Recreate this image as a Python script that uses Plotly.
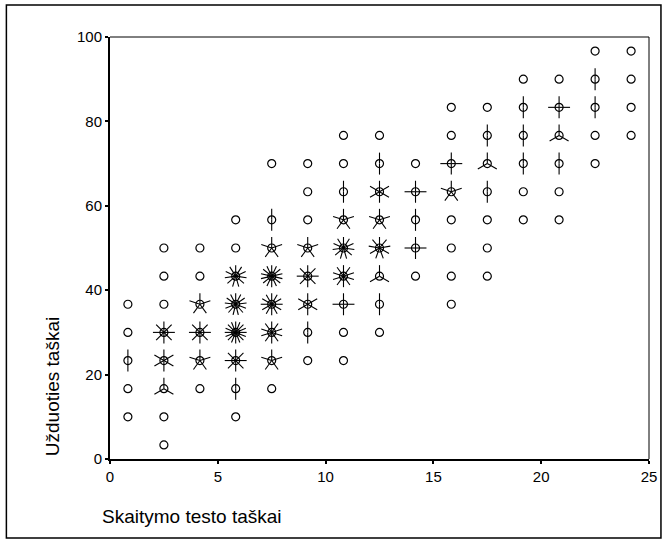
import math
import plotly.graph_objects as go

# ---- data -------------------------------------------------------------
# bin centres on each axis
x_centers = [0.83, 2.5, 4.17, 5.83, 7.5, 9.17, 10.83, 12.5, 14.17, 15.83,
             17.5, 19.17, 20.83, 22.5, 24.17]
y_centers = [3.33, 10.0, 16.67, 23.33, 30.0, 36.67, 43.33, 50.0, 56.67,
             63.33, 70.0, 76.67, 83.33, 90.0, 96.67]

# counts[row][col]: row = y_centers index, col = x_centers index
counts = [
    # 0  1  2  3   4   5   6   7  8  9 10 11 12 13 14
    [0, 1, 0, 0,  0,  0,  0,  0, 0, 0, 0, 0, 0, 0, 0],   # 3.33
    [1, 1, 0, 1,  0,  0,  0,  0, 0, 0, 0, 0, 0, 0, 0],   # 10
    [1, 3, 1, 2,  1,  0,  0,  0, 0, 0, 0, 0, 0, 0, 0],   # 16.67
    [2, 6, 5, 8,  5,  1,  1,  0, 0, 0, 0, 0, 0, 0, 0],   # 23.33
    [1, 8, 8, 16, 10, 2,  1,  1, 0, 0, 0, 0, 0, 0, 0],   # 30
    [1, 1, 5, 13, 12, 6,  4,  2, 0, 1, 0, 0, 0, 0, 0],   # 36.67
    [0, 1, 1, 11, 14, 8,  10, 3, 1, 1, 1, 0, 0, 0, 0],   # 43.33
    [0, 1, 1, 1,  5,  5,  11, 9, 4, 1, 1, 0, 0, 0, 0],   # 50
    [0, 0, 0, 1,  2,  1,  5,  5, 2, 1, 1, 1, 1, 0, 0],   # 56.67
    [0, 0, 0, 0,  0,  1,  2,  6, 4, 5, 2, 1, 1, 0, 0],   # 63.33
    [0, 0, 0, 0,  1,  1,  1,  2, 1, 4, 3, 2, 2, 1, 0],   # 70
    [0, 0, 0, 0,  0,  0,  1,  1, 0, 1, 2, 2, 3, 1, 1],   # 76.67
    [0, 0, 0, 0,  0,  0,  0,  0, 0, 1, 1, 2, 4, 2, 1],   # 83.33
    [0, 0, 0, 0,  0,  0,  0,  0, 0, 0, 0, 1, 1, 2, 1],   # 90
    [0, 0, 0, 0,  0,  0,  0,  0, 0, 0, 0, 0, 0, 1, 1],   # 96.67
]

x_ticks = [0, 5, 10, 15, 20, 25]
y_ticks = [0, 20, 40, 60, 80, 100]
x_title = "Skaitymo testo taškai"
y_title = "Užduoties taškai"

# ---- layout geometry ---------------------------------------------------
W, H = 669, 543
ML, MR, MT, MB = 110, 18, 37, 84
XR = [0, 25]
YR = [0, 100]
plot_w = W - ML - MR
plot_h = H - MT - MB
px_per_x = plot_w / (XR[1] - XR[0])
px_per_y = plot_h / (YR[1] - YR[0])
PETAL = 11.0  # petal length in pixels

# ---- build sunflowers --------------------------------------------------
cx, cy = [], []
px, py = [], []
for r, yv in enumerate(y_centers):
    for c, xv in enumerate(x_centers):
        n = counts[r][c]
        if n <= 0:
            continue
        cx.append(xv)
        cy.append(yv)
        if n >= 2:
            for k in range(n):
                a = math.radians(90 + k * 360.0 / n)
                px += [xv, xv + PETAL * math.cos(a) / px_per_x, None]
                py += [yv, yv + PETAL * math.sin(a) / px_per_y, None]

fig = go.Figure()
fig.add_trace(go.Scatter(x=px, y=py, mode="lines",
                         line=dict(color="black", width=1.1),
                         hoverinfo="skip", showlegend=False))
fig.add_trace(go.Scatter(x=cx, y=cy, mode="markers",
                         marker=dict(symbol="circle-open", size=8,
                                     color="black", line=dict(width=1.2)),
                         showlegend=False))

font_family = "Liberation Sans, Arial, sans-serif"
fig.update_layout(
    width=W, height=H,
    margin=dict(l=ML, r=MR, t=MT, b=MB),
    paper_bgcolor="white", plot_bgcolor="white",
    font=dict(family=font_family, color="black"),
    xaxis=dict(range=XR, tickvals=x_ticks, showgrid=False, zeroline=False,
               showline=True, linecolor="black", linewidth=2,
               ticks="outside", ticklen=3, tickwidth=2, tickcolor="black",
               tickfont=dict(size=15, family=font_family, color="black")),
    yaxis=dict(range=YR, tickvals=y_ticks, showgrid=False, zeroline=False,
               showline=True, linecolor="black", linewidth=2,
               ticks="outside", ticklen=3, tickwidth=2, tickcolor="black",
               tickfont=dict(size=15, family=font_family, color="black")),
)

# thin top / right frame lines and outer border
fig.add_shape(type="line", xref="paper", yref="paper", x0=0, x1=1, y0=1, y1=1,
              line=dict(color="black", width=1))
fig.add_shape(type="line", xref="paper", yref="paper", x0=1, x1=1, y0=0, y1=1,
              line=dict(color="black", width=1))
fig.add_shape(type="rect", xref="paper", yref="paper",
              x0=(6 - ML) / plot_w, x1=(663 - ML) / plot_w,
              y0=(H - MB - 538) / plot_h, y1=(H - MB - 5) / plot_h,
              line=dict(color="black", width=1.5))

# axis titles (SPSS style, aligned with origin)
fig.add_annotation(text=x_title, xref="paper", yref="paper",
                   x=(100 - ML) / plot_w, y=(H - MB - 516) / plot_h,
                   xanchor="left", yanchor="middle", showarrow=False,
                   font=dict(size=19, family=font_family, color="black"))
fig.add_annotation(text=y_title, xref="paper", yref="paper", textangle=-90,
                   x=(52 - ML) / plot_w, y=(H - MB - 387) / plot_h,
                   xanchor="center", yanchor="middle", showarrow=False,
                   font=dict(size=19, family=font_family, color="black"))

fig.write_html(
    "out.html",
    config={"displayModeBar": False},
    post_script="document.body.style.margin='0';document.body.style.overflow='hidden';",
)
